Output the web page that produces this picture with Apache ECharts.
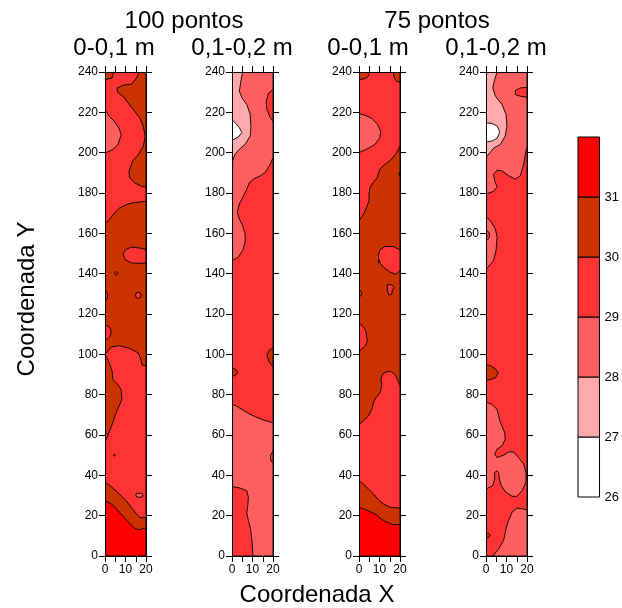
<!DOCTYPE html>
<html>
<head>
<meta charset="utf-8">
<script src="https://cdn.jsdelivr.net/npm/echarts@6/dist/echarts.min.js"></script>
<style>
  html, body { margin: 0; padding: 0; background: #fff; }
  #chart { width: 622px; height: 608px; }
</style>
</head>
<body>
<div id="chart"></div>
<script>
// Class boundaries of the contour legend and the tick values of the axes
const barLevels = [26, 27, 28, 29, 30, 31];
const barTop = 32;
const yTicks = [0, 20, 40, 60, 80, 100, 120, 140, 160, 180, 200, 220, 240];
const xTicks = [0, 5, 10, 15, 20];
const xLabelled = [0, 10, 20];

const groupTitles = ['100 pontos', '75 pontos'];
const depthTitles = ['0-0,1 m', '0,1-0,2 m', '0-0,1 m', '0,1-0,2 m'];

// Contour classes: [lower class bound, polygon in (X, Y) field coordinates], drawn in order
const regions100Top = [
  [30, [[0,0],[20,0],[20,240],[0,240]]],
  [29, [[0,164.6],[2.1,166.8],[4.6,170.1],[7.1,172.6],[10.4,174.2],[13.7,175.2],[17,175.5],[20,175.9],[20,183],[17.9,183.3],[14.5,185],[12.1,187.4],[11.7,190.7],[13.4,195.7],[16.2,199],[18.7,203.1],[19.6,208],[18.7,213],[17,217.2],[14.5,220.5],[11.7,224.1],[8.8,228],[6.3,229.6],[5.8,232],[8.8,233.4],[12.9,234],[15.4,237],[16.7,240],[4.3,240],[3.5,237],[0,236.2]]],
  [28, [[0,221.3],[2.1,218],[4.6,215.5],[6.8,212.2],[7.9,208.9],[6.3,204],[3.8,201.5],[0,199.8]]],
  [29, [[20,152],[17,152.7],[12.9,153.2],[10.1,151.9],[8.8,149.8],[9.9,146.9],[12.9,145.3],[17,145.1],[20,145.3]]],
  [29, [[4.7,140.2],[5.1,140.9],[5.9,140.9],[6.3,140.2],[5.9,139.5],[5.1,139.5]]],
  [29, [[0,131.6],[0.9,131],[1.3,129.1],[0.9,127.2],[0,126.6]]],
  [29, [[14.8,129.3],[15.3,130.5],[16.2,130.8],[17.2,130.5],[17.6,129.3],[17.2,128.1],[16.2,127.8],[15.3,128.1]]],
  [29, [[0,114.5],[1.6,114],[2.7,112.5],[3,110.9],[2.6,109],[1.4,107.7],[0,107.3]]],
  [29, [[0,99.8],[3,103.6],[7,104.3],[12,103],[16.2,100.7],[17.5,97.4],[18.1,94.7],[20,94.4],[20,18.8],[17,19.1],[15.3,20.8],[12.9,24],[10.4,27.3],[7.9,29.8],[5.4,32.3],[3,34.4],[0,36.7],[0,56.5],[1.3,59.5],[2.5,62.8],[3.8,66],[5.1,70.2],[6.8,74.3],[8.2,77.6],[7.9,82.5],[6.3,85],[3.8,87.5],[3.5,91.6],[2.1,95.7],[0.5,99.2]]],
  [30, [[4.1,50],[4.6,50.5],[5.1,50],[4.6,49.5]]],
  [28, [[15,30.2],[15.4,31.1],[17.8,31.1],[18.6,30.3],[18.2,29.2],[15.5,29.2]]],
  [31, [[0,0],[20,0],[20,13.7],[18.6,13.7],[16.6,13],[14.5,13.7],[12,16.3],[9.6,18.8],[7.1,21.6],[4.6,24.5],[2.5,26.2],[0,27.3]]]
];

const regions100Sub = [
  [29, [[0,0],[20,0],[20,240],[0,240]]],
  [28, [[0,240],[20,240],[20,197.6],[18.7,194.3],[16.2,190.2],[13.8,188.5],[10.5,186.9],[8.5,185.2],[7.2,182],[5.2,177.8],[3.6,174.5],[2.6,170.4],[3.6,167.1],[5.2,163.8],[6.4,159.7],[6.4,155.6],[5.2,151.5],[3.1,148.2],[0,146.3]]],
  [27, [[0,240],[5.2,240],[4.3,235.4],[3.6,230.5],[4.8,227.2],[7.2,223.9],[8.9,219],[9.2,212.4],[8.9,208.3],[6.4,204.1],[3.6,201.7],[1.5,199.2],[0,195.1]]],
  [26, [[0,216.5],[1.5,214.8],[3.6,212.4],[4.8,209.9],[3.1,207.8],[0,206.1]]],
  [29, [[20,231.3],[17.9,229.6],[16.7,225.5],[17,221.4],[18.7,217.3],[20,215.7]]],
  [28, [[0,75.2],[2.3,74.3],[4.8,72.7],[8,70.7],[11.3,69.1],[15.4,67.4],[20,66.1],[20,0],[10.2,0],[9.8,6.9],[9.2,12.7],[8,17.6],[7.2,21.4],[7.7,25],[8,29.1],[7.2,32.4],[3.9,33.7],[0,34.5]]],
  [30, [[20,103.1],[18.4,102.3],[17,99.8],[18,96.5],[20,93.8]]],
  [30, [[0,93.3],[2,92.4],[2.8,90.8],[1.5,89.5],[0,89.1]]],
  [29, [[20,52.1],[18.7,49.7],[19,47.2],[20,46.1]]]
];

const regions75Top = [
  [30, [[0,0],[20,0],[20,240],[0,240]]],
  [29, [[0,166.3],[2.1,169.3],[3.7,172.9],[4.9,176.2],[4.9,179.5],[5.4,182.8],[7,185.2],[8.9,187.7],[10.2,191.8],[12.7,194.3],[15.9,196.7],[18.4,200],[20,203.3],[20,234.9],[18.4,235.4],[17.2,237],[16.7,240],[4.9,240],[4.6,237.9],[2.9,236.7],[0,236.2]]],
  [28, [[0,219.3],[2.9,218.6],[6.2,217],[8.9,214.3],[10.6,210.7],[10.2,207.4],[7.8,204.1],[4.6,202.2],[0,200]]],
  [30, [[20,190.5],[19.4,189.4],[20,188.3]]],
  [29, [[20,151.8],[16.7,153.5],[12.7,153.5],[10.2,151.8],[9.4,149],[9.9,145.8],[11.9,143.3],[15.1,140.8],[18,139.7],[20,141.6]]],
  [30, [[9.3,146.6],[10.3,146.2],[9.6,145.3]]],
  [29, [[13.8,134.7],[15.9,134.4],[17.2,133.1],[16.3,131.9],[15.9,129.7],[14.6,129.3],[13.8,131.9]]],
  [29, [[0,132],[1,131.2],[1.3,130.2],[0.9,129],[0,128.5]]],
  [29, [[0,115.5],[2.1,113.8],[3.4,111.3],[4.1,106.4],[2.9,103.9],[0,101.5]]],
  [29, [[0,65.3],[2.1,66.9],[4.6,69.4],[6.2,72.7],[7.3,76.8],[8.6,78.9],[10.2,80.9],[11.1,84.2],[10.7,88.3],[11.9,90.5],[13.5,91.3],[15.4,91.6],[17.6,90],[18.9,87.2],[20,84.5],[20,23.7],[15.1,24.2],[11.9,25.8],[9.4,28],[7,30.8],[4.6,33.2],[2.1,35.7],[0,37.3]]],
  [31, [[0,0],[20,0],[20,15.6],[16.7,15.6],[13.5,16.8],[11.1,18.1],[8.6,20.4],[5.4,22],[2.1,23.4],[0,24.2]]]
];

const regions75Sub = [
  [29, [[0,0],[20,0],[20,240],[0,240]]],
  [28, [[0,240],[20,240],[20,203.3],[19.2,199.2],[18.4,194.3],[16.7,188.5],[14.3,186.9],[11.1,188.5],[7.8,191],[5.4,191.3],[3.7,189.3],[4.2,186],[5.4,183.1],[3.7,180.8],[0,179.5]]],
  [27, [[0,240],[5.4,240],[4.2,236.2],[3.3,232.1],[4.6,228],[7.8,223.9],[9.8,218.9],[10.2,213.2],[9.4,208.3],[7,204.1],[3.7,202.2],[0,197.6]]],
  [26, [[0,214.8],[2.9,214.5],[5.4,213.2],[6.7,210.4],[5.4,207.1],[2.9,205.8],[0,205.3]]],
  [29, [[20,232.4],[16.7,232.1],[14.3,230.8],[14.3,228.8],[16.7,228],[20,227.5]]],
  [28, [[0,168.3],[2.1,166.3],[4.6,162.2],[5.4,158.1],[4.9,151.5],[3.7,146.6],[0,142]]],
  [29, [[0,161.5],[1.5,160.5],[1.8,158.5],[0.8,156.8],[0,156.3]]],
  [30, [[0,94.9],[2.1,94.4],[4.6,92.8],[5.9,90.8],[4.6,88.3],[2.1,87.5],[0,87.2]]],
  [28, [[0,76.3],[2.9,75.2],[5.4,72.7],[6.2,69.4],[7,66.1],[7.8,64.5],[9.1,61.2],[9.4,57.9],[7.8,54.6],[5.4,53],[4.2,50.5],[5.4,48.8],[8.6,50],[11.1,51.6],[13.5,51.6],[15.9,48.8],[18.4,45.6],[19.5,41.4],[19.5,36.5],[17.6,32.4],[15.1,29.6],[12.7,29.6],[9.4,31.9],[7.5,34.9],[6.5,38.2],[6.2,41.4],[5.4,42.3],[4.2,41.4],[4.2,38.2],[3.3,34.9],[0,33.2]]],
  [28, [[3.3,0],[6.2,3.6],[8.6,7.7],[9.8,13.5],[10.7,16.8],[12.7,21.7],[15.1,23.8],[17.6,23.4],[20,22.9],[20,0]]],
  [30, [[0,11.5],[1.3,11.2],[2.1,10.2],[1.3,9.2],[0,8.9]]]
];

const panels = [regions100Top, regions100Sub, regions75Top, regions75Sub];

// ---- styling ----
const FONT = '"Liberation Sans", Arial, Helvetica, sans-serif';
const classColor = { 26: '#FFFFFF', 27: '#FFAAAA', 28: '#FF5F5F', 29: '#FF3333', 30: '#CC3300', 31: '#FF0000' };
const panelLeft = [105, 232, 359, 486];
const panelTop = 72, panelW = 41, panelH = 484;

const grid = panelLeft.map(l => ({ left: l, top: panelTop, width: panelW, height: panelH }));
grid.push({ left: 578, top: 137, width: 23, height: 360 });

const lineStyle = { color: '#000', width: 1 };
const xAxis = [], yAxis = [], series = [];

panelLeft.forEach((_, i) => {
  const common = { gridIndex: i, type: 'value', z: 5, splitLine: { show: false } };
  xAxis.push(Object.assign({}, common, {
    min: xTicks[0], max: xTicks[xTicks.length - 1], interval: xTicks[1] - xTicks[0], position: 'bottom',
    axisLine: { onZero: false, lineStyle },
    axisTick: { length: 6, lineStyle },
    axisLabel: { fontFamily: FONT, fontSize: 12, color: '#000', margin: 8,
      formatter: v => xLabelled.includes(v) ? String(v) : '' }
  }));
  xAxis.push(Object.assign({}, common, {
    min: xTicks[0], max: xTicks[xTicks.length - 1], interval: xTicks[1] - xTicks[0], position: 'top',
    axisLine: { onZero: false, lineStyle },
    axisTick: { length: 6, lineStyle },
    axisLabel: { show: false }
  }));
  yAxis.push(Object.assign({}, common, {
    min: yTicks[0], max: yTicks[yTicks.length - 1], interval: yTicks[1] - yTicks[0], position: 'left',
    axisLine: { onZero: false, lineStyle },
    axisTick: { length: 6, lineStyle },
    axisLabel: { fontFamily: FONT, fontSize: 12, color: '#000', margin: 7,
      formatter: v => yTicks.includes(v) ? String(v) : '' }
  }));
  yAxis.push(Object.assign({}, common, {
    min: yTicks[0], max: yTicks[yTicks.length - 1], interval: yTicks[1] - yTicks[0], position: 'right',
    axisLine: { onZero: false, lineStyle },
    axisTick: { length: 6, lineStyle },
    axisLabel: { show: false }
  }));

  const regions = panels[i];
  series.push({
    type: 'custom',
    xAxisIndex: 2 * i,
    yAxisIndex: 2 * i,
    clip: true,
    silent: true,
    animation: false,
    z: 1,
    data: regions.map(r => r[1][0]),
    renderItem: (params, api) => {
      const r = regions[params.dataIndex];
      return {
        type: 'polygon',
        shape: { points: r[1].map(p => api.coord(p)) },
        style: { fill: classColor[r[0]], stroke: '#000', lineWidth: 0.9 }
      };
    }
  });
});

// colour scale
xAxis.push({ gridIndex: 4, type: 'value', min: 0, max: 1, show: false });
yAxis.push({
  gridIndex: 4, type: 'value', min: barLevels[0], max: barTop, interval: 1, position: 'right',
  splitLine: { show: false }, axisLine: { show: false }, axisTick: { show: false },
  axisLabel: { fontFamily: FONT, fontSize: 13, color: '#000', margin: 5,
    formatter: v => barLevels.includes(v) ? String(v) : '' }
});
series.push({
  type: 'custom',
  xAxisIndex: 8,
  yAxisIndex: 8,
  silent: true,
  animation: false,
  data: barLevels.map(l => [0, l]),
  renderItem: (params, api) => {
    const lvl = barLevels[params.dataIndex];
    const top = params.dataIndex === barLevels.length - 1 ? barTop : barLevels[params.dataIndex + 1];
    const p0 = api.coord([0, lvl]);
    const p1 = api.coord([1, top]);
    return {
      type: 'rect',
      shape: { x: p0[0], y: p1[1], width: p1[0] - p0[0], height: p0[1] - p1[1] },
      style: { fill: classColor[lvl], stroke: '#000', lineWidth: 1 }
    };
  }
});

function label(text, x, y, size, rotation) {
  return {
    type: 'text', x, y, rotation: rotation || 0, silent: true,
    style: { text, fill: '#000', font: size + 'px ' + FONT,
      textAlign: 'center', textVerticalAlign: 'middle', align: 'center', verticalAlign: 'middle' }
  };
}

const graphic = [
  label(groupTitles[0], 184, 21, 24),
  label(groupTitles[1], 437, 21, 24),
  label(depthTitles[0], 114, 48, 24),
  label(depthTitles[1], 242, 48, 24),
  label(depthTitles[2], 368, 48, 24),
  label(depthTitles[3], 496, 48, 24),
  label('Coordenada Y', 27, 299, 24, Math.PI / 2),
  label('Coordenada X', 317, 595, 24)
];

const chart = echarts.init(document.getElementById('chart'), null, { renderer: 'canvas' });
chart.setOption({
  backgroundColor: '#fff',
  animation: false,
  grid, xAxis, yAxis, series, graphic
});
</script>
</body>
</html>
